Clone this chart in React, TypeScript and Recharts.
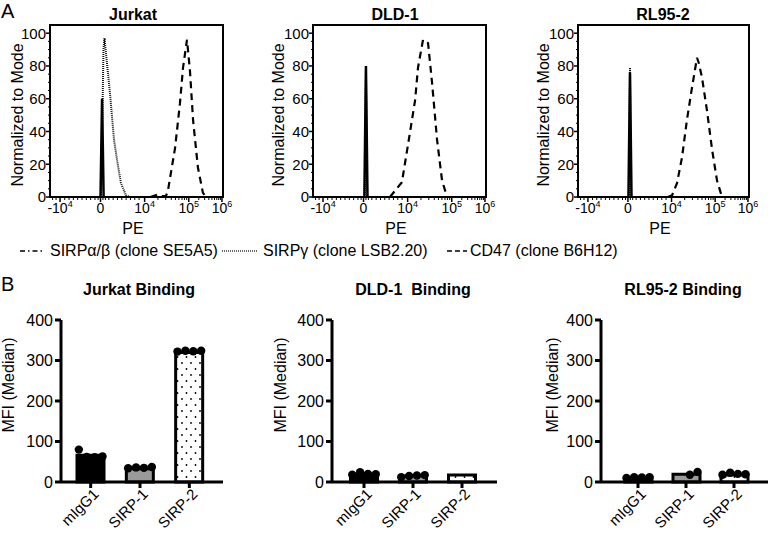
import React from 'react';
import { LineChart, Line, XAxis, YAxis, ReferenceArea, ComposedChart, Bar, Cell, Scatter } from 'recharts';

const FONT = '"Liberation Sans", Arial, Helvetica, sans-serif';

// ---------- Panel A : flow cytometry histograms ----------
// x values are positions on the biexponential PE display (0 = left frame edge, 100 = right frame edge)
const PE_MAJOR_TICKS = [5.8, 29.2, 54.7, 80.2, 99.4];
const PE_TICK_LABELS = [['-10', '4'], ['0', ''], ['10', '4'], ['10', '5'], ['10', '6']];
const PE_MINOR_TICKS = [1.5, 3.5, 8.5, 11, 13.5, 16, 18.5, 21, 23.5, 26, 27.8, 30.6, 32, 34, 36.5, 39, 41.5, 44, 46.5, 49, 51.5,
  62.4, 66.9, 70.1, 72.5, 74.5, 76.3, 77.7, 79, 86, 89.4, 91.8, 93.6, 95.1, 96.4, 97.5, 98.5];
const MODE_MAJOR_TICKS = [0, 20, 40, 60, 80, 100];
const MODE_MINOR_TICKS = [5, 10, 15, 25, 30, 35, 45, 50, 55, 65, 70, 75, 85, 90, 95];

const JURKAT_SIRPAB = [[29.2, 0], [30.1, 60], [31.0, 0]];
const JURKAT_SIRPG = [[29.5, 0], [30.3, 50], [30.9, 90], [31.5, 97], [32.9, 82], [34.7, 63], [37, 35], [38.7, 23], [41, 8.5], [43.9, 1], [46.2, 0]];
const JURKAT_CD47 = [[58, 0], [62.4, 1.5], [64.7, 0.5], [67, 0.5], [68.2, 4], [72.3, 30], [75.1, 57], [76.9, 79], [79.2, 96], [80.9, 77], [82.7, 47], [85.5, 18], [88.4, 2.5], [90.2, 0]];

const DLD_SIRPAB = [[29.7, 0], [30.6, 80], [31.5, 0]];
const DLD_SIRPG = [[29.9, 0], [30.6, 77], [31.3, 0]];
const DLD_CD47 = [[44.5, 0], [51.4, 9], [56, 39], [59, 59], [60.7, 79], [63.6, 96], [66.5, 94], [68.8, 70], [71.7, 35], [74.6, 10], [77.5, 0]];

const RL_SIRPAB = [[29.5, 0], [30.4, 76], [31.3, 0]];
const RL_SIRPG = [[29.8, 0], [30.4, 79], [31.0, 0]];
const RL_CD47 = [[52.6, 0], [55, 1], [57.9, 8.5], [60.8, 24], [63.7, 47], [66.7, 67], [69.6, 85], [70.6, 82], [72.5, 73], [75.4, 53], [78.4, 29], [81.3, 10], [84.2, 0]];

// ---------- Panel B : binding bar charts ----------
const CATS = ['mIgG1', 'SIRP-1', 'SIRP-2'];
const MFI_TICKS = [0, 100, 200, 300, 400];
const JITTER = [-0.24, -0.08, 0.08, 0.24];

const JURKAT_MEAN = [66, 33, 320];
const JURKAT_PTS = [[80, 62, 61, 63], [34, 36, 35, 37], [322, 324, 323, 324]];
const DLD_MEAN = [19, 15, 17];
const DLD_PTS = [[18, 24, 20, 19], [12, 15, 16, 17], []];
const RL_MEAN = [11, 19, 17];
const RL_PTS = [[10, 12, 11, 12], [null, null, 18, 25], [18, 23, 20, 19]];

const PE_ALL_TICKS = [...PE_MAJOR_TICKS, ...PE_MINOR_TICKS].sort((a, b) => a - b);
const MODE_ALL_TICKS = [...MODE_MAJOR_TICKS, ...MODE_MINOR_TICKS].sort((a, b) => a - b);

const toPts = (arr: number[][]) => arr.map(([x, y]) => ({ x, y }));

const renderPeTick = (props: any) => {
  const { x, y, payload } = props;
  const i = PE_MAJOR_TICKS.indexOf(payload.value);
  if (i < 0) {
    return <line x1={x} x2={x} y1={y} y2={y + 3} stroke="#000" strokeWidth={1} />;
  }
  const [base, exp] = PE_TICK_LABELS[i];
  return (
    <g>
      <line x1={x} x2={x} y1={y} y2={y + 5} stroke="#000" strokeWidth={1.5} />
      <text x={x} y={y + 16} textAnchor="middle" fontSize={14} fontFamily={FONT} fill="#000">
        {base}
        {exp ? <tspan dy={-6} fontSize={9}>{exp}</tspan> : null}
      </text>
    </g>
  );
};

const renderModeTick = (props: any) => {
  const { x, y, payload } = props;
  const major = MODE_MAJOR_TICKS.indexOf(payload.value) >= 0;
  if (!major) {
    return <line x1={x - 2} x2={x} y1={y} y2={y} stroke="#000" strokeWidth={1} />;
  }
  return (
    <g>
      <line x1={x - 4} x2={x} y1={y} y2={y} stroke="#000" strokeWidth={1.5} />
      <text x={x - 4} y={y} dy="0.36em" textAnchor="end" fontSize={15} fontFamily={FONT} fill="#000">
        {payload.value}
      </text>
    </g>
  );
};

function Histogram({ left, plotWidth, sirpab, sirpg, cd47 }: any) {
  const W = 50 + plotWidth + 16;
  return (
    <div style={{ position: 'absolute', left, top: 0 }}>
      <LineChart width={W} height={240} margin={{ top: 25, right: 16, bottom: 0, left: 0 }}>
        <XAxis type="number" dataKey="x" domain={[0, 100]} ticks={PE_ALL_TICKS} interval={0} tick={renderPeTick}
          tickSize={0} tickMargin={0} tickLine={false} axisLine={{ stroke: '#000', strokeWidth: 2 }} height={43} allowDataOverflow />
        <YAxis type="number" domain={[0, 105]} ticks={MODE_ALL_TICKS} interval={0} tick={renderModeTick}
          tickSize={0} tickMargin={0} tickLine={false} axisLine={{ stroke: '#000', strokeWidth: 2 }} width={50} allowDataOverflow />
        <ReferenceArea x1={0} x2={100} y1={0} y2={105} fill="none" fillOpacity={0} stroke="#000" strokeWidth={2} ifOverflow="visible" />
        <Line data={toPts(cd47)} dataKey="y" type="linear" stroke="#000" strokeWidth={2.2} strokeDasharray="7 5" dot={false} isAnimationActive={false} />
        <Line data={toPts(sirpg)} dataKey="y" type="linear" stroke="#111" strokeWidth={2} strokeDasharray="1 1" dot={false} isAnimationActive={false} />
        <Line data={toPts(sirpab)} dataKey="y" type="linear" stroke="#000" strokeWidth={2.5} dot={false} isAnimationActive={false} />
      </LineChart>
    </div>
  );
}

const renderCatTick = (props: any) => {
  const { x, y, payload } = props;
  const ax = x + 9;
  const ay = y + 5;
  return (
    <text x={ax} y={ay} transform={`rotate(-45, ${ax}, ${ay})`} textAnchor="end" fontSize={15} fontFamily={FONT} fill="#000">
      {payload.value}
    </text>
  );
};

const dotShape = (p: any) => <circle cx={p.cx} cy={p.cy} r={4.2} fill="#000" />;

function Binding({ left, yAxisWidth, plotWidth, marginRight, padL, padR, means, pts, pid }: any) {
  const barData = CATS.map((c, i) => ({ cat: c, v: means[i] }));
  const dotData: { x: number; y: number }[] = [];
  pts.forEach((arr: (number | null)[], i: number) =>
    arr.forEach((v, j) => {
      if (v != null) dotData.push({ x: i + 0.5 + JITTER[j], y: v });
    })
  );
  const fills = ['#000', '#9a9a9a', `url(#${pid})`];
  return (
    <div style={{ position: 'absolute', left, top: 300 }}>
      <ComposedChart width={yAxisWidth + plotWidth + marginRight} height={236} data={barData}
        margin={{ top: 20, right: marginRight, bottom: 0, left: 0 }}>
        <defs>
          <pattern id={pid} width="9" height="12" patternUnits="userSpaceOnUse">
            <rect width="9" height="12" fill="#fff" />
            <circle cx="2" cy="3" r="0.9" fill="#000" />
            <circle cx="6.5" cy="9" r="0.9" fill="#000" />
          </pattern>
        </defs>
        <XAxis xAxisId="cat" dataKey="cat" type="category" padding={{ left: padL, right: padR }} height={54} interval={0}
          tick={renderCatTick} tickSize={6} tickMargin={2} tickLine={{ stroke: '#000', strokeWidth: 3 }} axisLine={{ stroke: '#000', strokeWidth: 3 }} />
        <XAxis xAxisId="num" dataKey="x" type="number" domain={[0, 3]} padding={{ left: padL, right: padR }} hide />
        <YAxis width={yAxisWidth} domain={[0, 400]} ticks={MFI_TICKS} interval={0} tickSize={6} tickMargin={2}
          tick={{ fontSize: 16, fill: '#000', fontFamily: FONT }} tickLine={{ stroke: '#000', strokeWidth: 3 }} axisLine={{ stroke: '#000', strokeWidth: 3 }} />
        <Bar xAxisId="cat" dataKey="v" barSize={27} stroke="#000" strokeWidth={3} isAnimationActive={false}>
          {barData.map((d, i) => <Cell key={d.cat} fill={fills[i]} />)}
        </Bar>
        <Scatter xAxisId="num" data={dotData} dataKey="y" shape={dotShape} isAnimationActive={false} />
      </ComposedChart>
    </div>
  );
}

const T = { fontFamily: FONT, fill: '#000' };

export default function App() {
  return (
    <div style={{ position: 'fixed', left: 0, top: 0, width: 770, height: 536, background: '#fff', overflow: 'hidden' }}>
      <Histogram left={0} plotWidth={173} sirpab={JURKAT_SIRPAB} sirpg={JURKAT_SIRPG} cd47={JURKAT_CD47} />
      <Histogram left={263} plotWidth={173} sirpab={DLD_SIRPAB} sirpg={DLD_SIRPG} cd47={DLD_CD47} />
      <Histogram left={528} plotWidth={171} sirpab={RL_SIRPAB} sirpg={RL_SIRPG} cd47={RL_CD47} />

      <Binding left={0} yAxisWidth={61} plotWidth={162} marginRight={5} padL={5} padR={9} means={JURKAT_MEAN} pts={JURKAT_PTS} pid="dotsJ" />
      <Binding left={260} yAxisWidth={72} plotWidth={165} marginRight={5} padL={7.5} padR={10.5} means={DLD_MEAN} pts={DLD_PTS} pid="dotsD" />
      <Binding left={530} yAxisWidth={71} plotWidth={167} marginRight={2} padL={13} padR={10} means={RL_MEAN} pts={RL_PTS} pid="dotsR" />

      <svg width={770} height={536} style={{ position: 'absolute', left: 0, top: 0, pointerEvents: 'none' }}>
        <text x={1} y={18} fontSize={20} {...T}>A</text>
        <text x={1} y={291} fontSize={20} {...T}>B</text>

        <text x={133} y={20} fontSize={16} fontWeight="bold" textAnchor="middle" {...T}>Jurkat</text>
        <text x={395} y={20} fontSize={16} fontWeight="bold" textAnchor="middle" {...T}>DLD-1</text>
        <text x={663} y={20} fontSize={16} fontWeight="bold" textAnchor="middle" {...T}>RL95-2</text>

        {[17, 278, 543].map((cx) => (
          <text key={cx} x={cx} y={115} dy="0.35em" fontSize={16} textAnchor="middle" transform={`rotate(-90, ${cx}, 115)`} {...T}>Normalized to Mode</text>
        ))}
        {[133, 396, 660].map((cx) => (
          <text key={cx} x={cx} y={234} fontSize={16} textAnchor="middle" {...T}>PE</text>
        ))}

        <line x1={20} x2={42} y1={251} y2={251} stroke="#000" strokeWidth={1.5} strokeDasharray="5 3 1.5 3" />
        <text x={50} y={256} fontSize={16} {...T}>SIRPα/β (clone SE5A5)</text>
        <line x1={222} x2={257} y1={251} y2={251} stroke="#333" strokeWidth={1.5} strokeDasharray="1 1" />
        <text x={263} y={256} fontSize={16} {...T}>SIRPγ (clone LSB2.20)</text>
        <line x1={447} x2={467} y1={251} y2={251} stroke="#000" strokeWidth={1.5} strokeDasharray="5 3" />
        <text x={470} y={256} fontSize={16} {...T}>CD47 (clone B6H12)</text>

        <text x={139} y={295} fontSize={16} fontWeight="bold" textAnchor="middle" {...T}>Jurkat Binding</text>
        <text x={413} y={295} fontSize={16} fontWeight="bold" textAnchor="middle" style={{ whiteSpace: 'pre' }} {...T}>DLD-1  Binding</text>
        <text x={683} y={295} fontSize={16} fontWeight="bold" textAnchor="middle" {...T}>RL95-2 Binding</text>

        {[8, 280, 552].map((cx) => (
          <text key={cx} x={cx} y={385} dy="0.35em" fontSize={16} textAnchor="middle" transform={`rotate(-90, ${cx}, 385)`} {...T}>MFI (Median)</text>
        ))}
      </svg>
    </div>
  );
}
